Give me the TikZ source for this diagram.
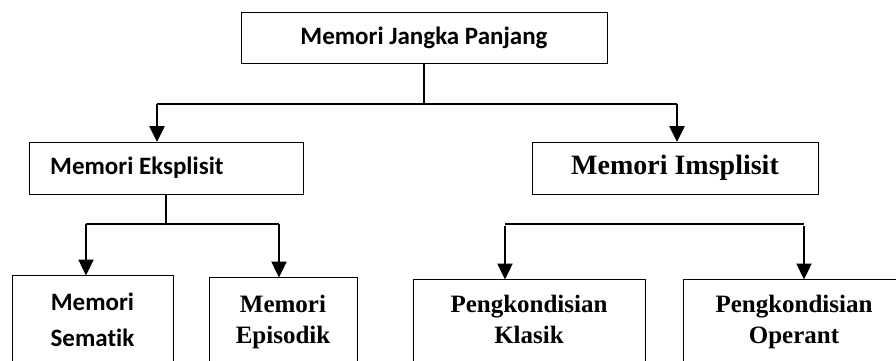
\documentclass[tikz,border=0pt]{standalone}
\usepackage{fontspec}
\setmainfont{Liberation Serif}
\newfontfamily\calfont[Ligatures=NoCommon]{Carlito}
\usetikzlibrary{arrows.meta}
\tikzset{
  box/.style={draw, line width=0.9pt, inner sep=0pt, align=center},
  sansbox/.style={box, font=\calfont\bfseries},
  serifbox/.style={box, font=\bfseries},
  sanslabel/.style={font=\calfont\bfseries\fontsize{25}{36}\selectfont, align=center, inner sep=0pt},
  seriflabel/.style={font=\bfseries\fontsize{25}{31}\selectfont, align=center, inner sep=0pt},
  link/.style={line width=1.6pt},
  arr/.style={line width=2.4pt, -{Triangle[width=15pt,length=16pt]}, shorten >=-0.5pt},
}
\begin{document}
\begin{tikzpicture}[x=1pt,y=-1pt]
\useasboundingbox (0,0) rectangle (896,361);
\clip (0,0) rectangle (896,361);

% boxes of the upper two levels
\node[sansbox, minimum width=366pt, minimum height=51pt, font=\calfont\bfseries\fontsize{25}{30}\selectfont]
  (top) at (424,37.5) {Memori Jangka Panjang};
\node[sansbox, minimum width=274pt, minimum height=52pt] (eks) at (166,168) {};
\node[sanslabel, anchor=west] (ekstext) at (50,168) {Memori Eksplisit};
\node[serifbox, minimum width=286pt, minimum height=52pt, font=\bfseries\fontsize{28}{32}\selectfont]
  (ims) at (675,168) {Memori Imsplisit};

% boxes of the lowest level (they run on past the lower edge)
\node[sansbox, minimum width=161pt, minimum height=110pt, anchor=north] (sem) at (92.5,275) {};
\node[sanslabel, anchor=base] (semtext) at (92.5,346) {Memori\\Sematik};
\node[serifbox, minimum width=148pt, minimum height=110pt, anchor=north] (epi) at (283,277) {};
\node[seriflabel, anchor=base] (epitext) at (283,343) {Memori\\Episodik};
\node[serifbox, minimum width=232pt, minimum height=110pt, anchor=north] (kla) at (529,279) {};
\node[seriflabel, anchor=base] (klatext) at (529,343) {Pengkondisian\\Klasik};
\node[serifbox, minimum width=222pt, minimum height=110pt, anchor=north] (ope) at (794,279) {};
\node[seriflabel, anchor=base] (opetext) at (794,343) {Pengkondisian\\Operant};

% junction points
\coordinate (j0) at (424,104);
\coordinate (jl) at (157,104);
\coordinate (jr) at (677,104);
\coordinate (k0) at (166,224);
\coordinate (kl) at (86,224);
\coordinate (kr) at (279,224);
\coordinate (ml) at (505,224);
\coordinate (mr) at (804,224);

% first level
\draw[link] (top.south) -- (j0);
\draw[link] (jl) -- (jr);
\draw[arr] (jl) -- (jl |- eks.north);
\draw[arr] (jr) -- (jr |- ims.north);

% explicit memory branch
\draw[link] (eks.south -| k0) -- (k0);
\draw[link] (kl) -- (kr);
\draw[arr] (kl) -- (kl |- sem.north);
\draw[arr] (kr) -- (kr |- epi.north);

% implicit memory branch
\draw[link] (ml) -- (mr);
\draw[arr] ([yshift=-2pt]ml) -- (ml |- kla.north);
\draw[arr] ([yshift=-2pt]mr) -- (mr |- ope.north);
\end{tikzpicture}
\end{document}
